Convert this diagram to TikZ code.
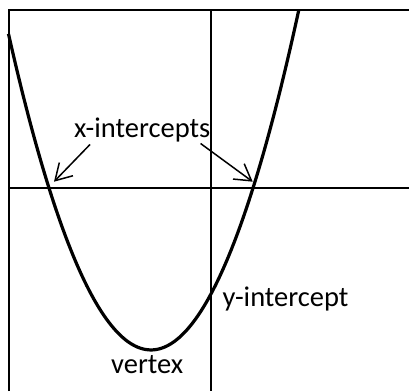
\documentclass[tikz,border=0pt]{standalone}
\usepackage{tikz}
\usepackage{fontspec}
\setmainfont{Carlito}
\usetikzlibrary{arrows.meta,positioning,calc}

\tikzset{
  axis/.style={line width=2pt},
  curve/.style={line width=3.2pt},
  lbl/.style={inner sep=0pt, font=\fontsize{28.5}{34}\selectfont},
  pointer/.style={line width=1.5pt, -{Straight Barb[length=16pt,width=19pt]}}
}

\begin{document}
\begin{tikzpicture}[x=1pt,y=-1pt]
        \useasboundingbox (0,0) rectangle (409,391);
        % frame and axes
        \draw[axis] (8.5,391) -- (8.5,9.5) -- (409,9.5);
        \draw[axis] (211,9.5) -- (211,391);
        \draw[axis] (8.5,188) -- (409,188);
        % the parabola
        \draw[curve] plot[domain=8.5:298.8, samples=120, smooth]
          (\x, {188-0.01557*(\x-49)*(\x-253)});
        % labels
        \node[lbl, anchor=base west] (xlab) at (74,137.7) {x-intercepts};
        \node[lbl, anchor=base west] (ylab) at (222.5,306.7) {y-intercept};
        \node[lbl, anchor=base west] (vlab) at (111,373.3) {vertex};
        \coordinate (xa) at (54,181.7);
        \coordinate (xb) at (252.7,181.7);
        \draw[pointer] ($(xlab.south west)+(16,2)$) -- (xa);
        \draw[pointer] ($(xlab.south east)+(-10,1)$) -- (xb);
      \end{tikzpicture}
\end{document}
